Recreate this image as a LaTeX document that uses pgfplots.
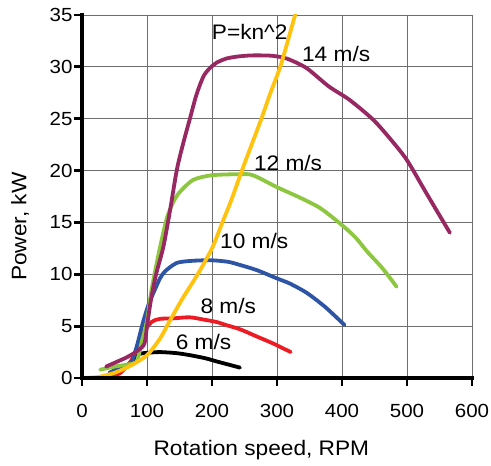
\documentclass[border=0pt]{standalone}
\usepackage{fontspec}
\setmainfont{Liberation Sans}[FakeStretch=1.08]
\usepackage{pgfplots}
\pgfplotsset{compat=1.18}
\definecolor{cpurple}{RGB}{152,40,98}
\definecolor{cgreen}{RGB}{141,198,63}
\definecolor{cyellow}{RGB}{255,194,14}
\definecolor{cblue}{RGB}{46,84,166}
\definecolor{cred}{RGB}{237,28,36}
\definecolor{cgrid}{RGB}{110,110,110}
\begin{document}
\begin{tikzpicture}
\begin{axis}[
  scale only axis, width=390pt, height=363pt,
  xmin=0, xmax=600, ymin=0, ymax=35,
  xtick={0,100,...,600}, ytick={0,5,...,35},
  /pgf/number format/assume math mode=true,
  ticklabel style={font=\fontsize{19}{21}\selectfont},
  axis line style={cgrid, line width=0.9pt},
  grid=major, major grid style={cgrid, line width=0.9pt},
  tick align=outside, xtick pos=left, ytick pos=left,
  major tick length=7pt,
  major tick style={black, line width=2.5pt},
  xticklabel style={yshift=-16pt},
  yticklabel style={xshift=1pt},
  xlabel={Rotation speed, RPM},
  ylabel={Power, kW},
  every axis x label/.style={at={(rel axis cs:0.46,0)}, anchor=center, yshift=-72pt, font=\fontsize{21}{23}\selectfont},
  every axis y label/.style={at={(rel axis cs:0,0.417)}, anchor=center, rotate=90, yshift=62pt, font=\fontsize{21}{23}\selectfont},
  every axis plot/.append style={line width=3.8pt, smooth, tension=0.45, line cap=round},
  clip mode=individual,
]
\addplot[black] coordinates {(40,0.3) (60,0.8) (75,1.5) (88,2.3) (105,2.45) (120,2.5) (145,2.4) (166,2.2) (190,1.9) (207,1.6) (225,1.3) (243,1.0)};
\addplot[cred] coordinates {(43,0.1) (58,0.45) (70,1.2) (79,2.05) (94,4.3) (107,5.4) (120,5.7) (140,5.75) (166,5.85) (190,5.6) (207,5.4) (222,5.1) (243,4.7) (269,4.0) (295,3.3) (321,2.5)};
\addplot[cblue] coordinates {(42,0.5) (55,0.9) (74,1.25) (84,3.0) (94,5.4) (103,7.2) (112,8.5) (120,9.6) (128,10.3) (146,11.1) (170,11.3) (199,11.35) (225,11.2) (243,10.9) (269,10.4) (300,9.6) (320,9.1) (346,8.2) (375,6.8) (404,5.1)};
\addplot[cgreen] coordinates {(28,0.8) (50,1.1) (70,1.3) (84,1.6) (92,3.5) (100,5.5) (107,8.5) (118,12) (130,15.3) (140,16.9) (150,17.9) (171,19.1) (200,19.55) (243,19.65) (263,19.55) (300,18.4) (335,17.4) (366,16.4) (397,14.9) (420,13.6) (440,12.1) (462,10.6) (484,8.8)};
\addplot[cpurple] coordinates {(37,1.1) (55,1.6) (69,2.0) (85,2.6) (96,3.3) (100,5) (106,7.5) (114,10) (125,12.6) (135,16) (146,20.1) (156,22.7) (166,25) (176,27.3) (187,29.1) (197,29.9) (207,30.4) (222,30.8) (240,31.0) (260,31.1) (280,31.1) (295,31.05) (315,30.8) (345,29.9) (380,28.1) (412,26.8) (448,24.9) (475,23) (500,21) (530,17.8) (566,14)};
\addplot[cyellow] coordinates {(0,0) (25,0.1) (50,0.5) (75,1.2) (100,2.2) (120,3.8) (135,5.5) (155,7.7) (178,10) (200,12.5) (216,15) (230,17.2) (246,20) (261,22.5) (276,25) (290,27.5) (305,30) (318,32.8) (330,35.5)};
\begin{scope}[font=\fontsize{21}{23}\selectfont]
\node at (axis cs:258,33.4) {P=kn\^{}2};
\node at (axis cs:391,31.2) {14 m/s};
\node at (axis cs:317,20.7) {12 m/s};
\node at (axis cs:265,13.2) {10 m/s};
\node at (axis cs:225,6.9) {8 m/s};
\node at (axis cs:187,3.5) {6 m/s};
\end{scope}
\draw[black, line width=3.2pt, line cap=rect] (rel axis cs:0,1) -- (rel axis cs:0,0) -- (rel axis cs:1,0);
\pgfplotsinvokeforeach{0,100,...,600}{\draw[black, line width=2.8pt] (axis cs:#1,0) -- ++(0pt,-8pt);}
\pgfplotsinvokeforeach{0,5,...,35}{\draw[black, line width=2.8pt] (axis cs:0,#1) -- ++(-8pt,0pt);}
\end{axis}
\pgfresetboundingbox
\path[use as bounding box] (-82pt,-88pt) rectangle (409pt,378pt);
\end{tikzpicture}
\end{document}
